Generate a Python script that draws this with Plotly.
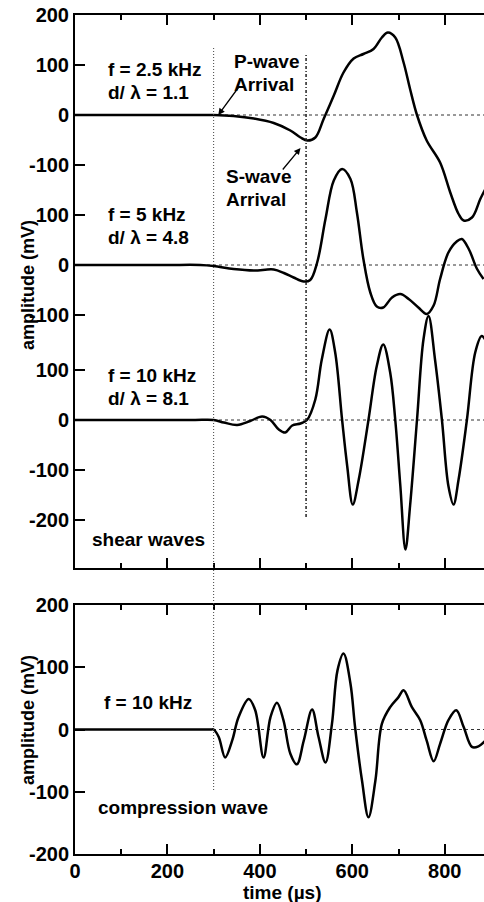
import plotly.graph_objects as go

# shear wave traces (time in us, amplitude in mV)
t_25k = [0, 100, 200, 250, 300, 343, 387, 430, 466, 488, 503, 520, 538, 560, 581, 603, 624, 646, 664, 677,
         693, 711, 725, 740, 761, 790, 812, 830, 841, 859, 877, 888]
a_25k = [0, 0, 0, 0, 0, -2, -7, -16, -31, -45, -51, -45, -8, 39, 85, 113, 122, 132, 155, 165,
         155, 105, 52, 0, -51, -95, -155, -198, -211, -205, -168, -148]

t_5k = [0, 100, 200, 271, 300, 343, 387, 430, 452, 473, 495, 509, 524, 542, 560, 578, 596, 610, 624,
        639, 653, 667, 686, 704, 722, 743, 761, 776, 790, 808, 826, 837, 852, 870, 884]
a_5k = [0, 0, 0, 0, -2, -8, -11, -9, -16, -25, -33, -30, 5, 92, 169, 192, 172, 105, 12,
        -55, -83, -85, -65, -58, -68, -85, -98, -81, -28, 25, 47, 52, 32, -8, -28]

t_10k = [0, 100, 200, 260, 300, 322, 351, 379, 405, 423, 441, 455, 470, 488, 502, 520, 534, 551, 563, 578,
         589, 601, 614, 635, 653, 667, 682, 693, 704, 715, 725, 740, 754, 765, 779, 794, 808, 819,
         830, 848, 866, 880, 888]
a_10k = [0, 0, 0, 0, 0, -5, -10, -2, 7, 0, -19, -25, -11, -7, 0, 41, 121, 181, 135, 0,
         -92, -169, -119, 0, 108, 151, 95, 0, -132, -259, -172, 0, 161, 208, 121, 0, -132, -169,
         -119, 0, 135, 168, 160]

# compression wave trace
t_comp = [0, 100, 200, 260, 295, 300, 311, 325, 340, 354, 376, 390, 408, 423, 437, 451, 466, 480, 495, 513, 527,
          542, 556, 568, 581, 596, 606, 621, 635, 650, 664, 682, 700, 711, 729, 747, 761, 776, 790,
          808, 825, 841, 859, 873, 888]
a_comp = [0, 0, 0, 0, 0, 0, -12, -45, -18, 20, 49, 31, -45, 20, 43, 15, -39, -56, -18, 32, -12,
          -53, 9, 95, 122, 74, 4, -82, -141, -82, 9, 36, 52, 63, 36, 15, -18, -51, -23,
          15, 31, 4, -28, -27, -18]

# stacking offsets of the shear traces in the top panel
offsets = [0, -300, -610]
ytick_vals = [200, 100, 0, -100, -200, -300, -400, -510, -610, -710, -810]
ytick_text = ['200', '100', '0', '-100', '100', '0', '-100', '100', '0', '-100', '-200']
xtick_vals = [0, 200, 400, 600, 800]

W, H = 484, 902
ML, MR, MT, MB = 75, 0, 15, 48
PH = H - MT - MB
PW = W - ML - MR


def py(p):
    return (H - MB - p) / PH


def px(p):
    return (p - ML) / PW


FONT = 'Liberation Sans, Arial, sans-serif'
LINE = dict(color='black', width=2.5)

fig = go.Figure()
for t, a, off in zip([t_25k, t_5k, t_10k], [a_25k, a_5k, a_10k], offsets):
    fig.add_trace(go.Scatter(x=t, y=[v + off for v in a], mode='lines', line=dict(shape='spline', **LINE),
                             xaxis='x2', yaxis='y2', showlegend=False, hoverinfo='skip'))
fig.add_trace(go.Scatter(x=t_comp, y=a_comp, mode='lines', line=dict(shape='spline', **LINE),
                         xaxis='x', yaxis='y', showlegend=False, hoverinfo='skip'))

shapes = []
for off in offsets:
    shapes.append(dict(type='line', xref='x2', yref='y2', x0=0, x1=885, y0=off, y1=off,
                       line=dict(color='#333', width=1, dash='dot'), layer='below'))
shapes.append(dict(type='line', xref='x', yref='y', x0=0, x1=885, y0=0, y1=0,
                   line=dict(color='#333', width=1, dash='dot'), layer='below'))
# arrival markers
shapes.append(dict(type='line', xref='x', yref='paper', x0=300, x1=300, y0=py(790), y1=py(48),
                   line=dict(color='#444', width=1, dash='1px,2px')))
shapes.append(dict(type='line', xref='x2', yref='y2', x0=500, x1=500, y0=-804, y1=120,
                   line=dict(color='#222', width=1.5, dash='3px,2px,1px,2px')))

texts = [
    ('f = 2.5 kHz', 106, 70), ('d/ λ = 1.1', 106, 92),
    ('f = 5 kHz', 106, 214), ('d/ λ = 4.8', 106, 237),
    ('f = 10 kHz', 106, 375), ('d/ λ = 8.1', 106, 398),
    ('shear waves', 90, 539),
    ('P-wave', 232, 62), ('Arrival', 232, 84),
    ('S-wave', 224, 177), ('Arrival', 224, 199),
    ('f = 10 kHz', 102, 702),
    ('compression wave', 96, 807),
]
annotations = []
for s, x, y in texts:
    annotations.append(dict(text=s, xref='paper', yref='paper', x=px(x), y=py(y), xanchor='left',
                            yanchor='middle', showarrow=False,
                            font=dict(family=FONT, size=19, color='black', weight='bold')))
# arrows
annotations.append(dict(text='', xref='x2', yref='y2', x=310, y=0, ax=22, ay=-30, showarrow=True,
                        arrowhead=2, arrowsize=1, arrowwidth=1.3, arrowcolor='black'))
annotations.append(dict(text='', xref='x2', yref='y2', x=488, y=-66, ax=-19, ay=23, showarrow=True,
                        arrowhead=2, arrowsize=1, arrowwidth=1.3, arrowcolor='black'))
# axis titles
for yc in [285, 720]:
    annotations.append(dict(text='amplitude (mV)', xref='paper', yref='paper', x=px(28), y=py(yc),
                            xanchor='center', yanchor='middle', textangle=-90, showarrow=False,
                            font=dict(family=FONT, size=18, color='black', weight='bold')))
annotations.append(dict(text='time (µs)', xref='paper', yref='paper', x=px(282), y=py(892),
                        xanchor='center', yanchor='middle', showarrow=False,
                        font=dict(family=FONT, size=19, color='black', weight='bold')))

tickfont = dict(family=FONT, size=20, color='black', weight='bold')
xcommon = dict(range=[0, 885], showline=True, linecolor='black', linewidth=2, mirror='allticks',
               ticks='inside', ticklen=10, tickwidth=2, tickcolor='black', showgrid=False,
               zeroline=False, tickvals=xtick_vals,
               minor=dict(dtick=100, tick0=0, ticks='inside', ticklen=5, tickwidth=1.5,
                          tickcolor='black', showgrid=False))

fig.update_layout(
    width=W, height=H,
    margin=dict(l=ML, r=MR, t=MT, b=MB),
    paper_bgcolor='white', plot_bgcolor='white',
    xaxis=dict(anchor='y', domain=[0, 1], showticklabels=True, tickfont=tickfont,
               ticklabelstandoff=-2, **xcommon),
    yaxis=dict(anchor='x', domain=[0, py(605)], range=[-200, 200], tickvals=[-200, -100, 0, 100, 200],
               ticktext=['-200', '-100', '0', '100', '200'], showline=True, linecolor='black',
               linewidth=2, ticks='inside', ticklen=10, tickwidth=2, tickcolor='black',
               showgrid=False, zeroline=False, tickfont=tickfont),
    xaxis2=dict(anchor='y2', domain=[0, 1], showticklabels=False, **xcommon),
    yaxis2=dict(anchor='x2', domain=[py(568), 1], range=[-906, 200], tickvals=ytick_vals,
                ticktext=ytick_text, showline=True, linecolor='black', linewidth=2, ticks='inside',
                ticklen=10, tickwidth=2, tickcolor='black', showgrid=False, zeroline=False,
                tickfont=tickfont),
    shapes=shapes,
    annotations=annotations,
)

# drop the default page margin so the figure sits at the window's corner
fig.write_html("out.html", config={'displayModeBar': False},
               post_script="document.body.style.margin='0';document.body.style.overflow='hidden';")
